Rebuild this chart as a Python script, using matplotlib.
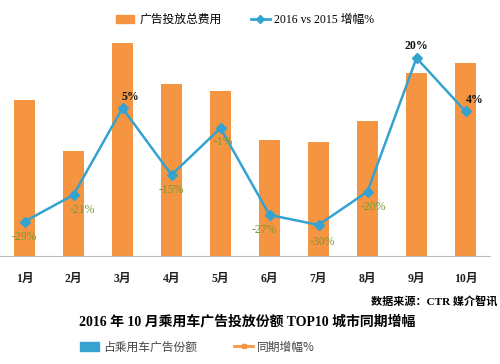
import numpy as np
import matplotlib.pyplot as plt
from matplotlib.patches import Patch
from matplotlib.lines import Line2D

plt.rcParams['font.family'] = ['Liberation Serif', 'Noto Sans CJK SC', 'DejaVu Sans']

# datos
meses = ['1月', '2月', '3月', '4月', '5月', '6月', '7月', '8月', '9月', '10月']
gasto = [156, 105, 213, 172, 165, 116, 114, 135, 183, 193]   # escala relativa
crecimiento = [-29, -21, 5, -15, -1, -27, -30, -20, 20, 4]   # %

naranja = '#F59541'
azul = '#35A3CF'
verde = '#6E9A3C'

fig = plt.figure(figsize=(5, 3.64), dpi=100)
ax = fig.add_axes([0.0, 0.2967, 0.98, 0.621])
x = np.arange(len(meses))

ax.bar(x, gasto, width=0.41, color=naranja, zorder=2)
ax.set_xlim(-0.5, 9.5)
ax.set_ylim(0, 226)
ax.set_yticks([])
for s in ['top', 'left', 'right']:
    ax.spines[s].set_visible(False)
ax.spines['bottom'].set_color('#BBBBBB')
ax.set_xticks(x)
ax.set_xticklabels(meses, fontsize=8.5, fontweight='bold', color='#222222')
ax.tick_params(axis='x', length=0, pad=12)

ax2 = ax.twinx()
ax2.plot(x, crecimiento, color=azul, lw=1.8, marker='D', ms=5, zorder=3)
ax2.set_ylim(-39.3, 28.4)
ax2.axis('off')

# posiciones de las etiquetas (desplazamiento en puntos)
desp = [(0, -11), (6, -11), (6, 8), (0, -11), (2, -10),
        (-4, -11), (3, -12), (4, -11), (0, 9), (7, 8)]
for xi, v, d in zip(x, crecimiento, desp):
    if v > 0:
        c, w = '#111111', 'bold'
    else:
        c, w = verde, 'normal'
    ax2.annotate(f'{v}%', (xi, v), xytext=d, textcoords='offset points',
                 ha='center', va='center', fontsize=8.5, fontweight=w, color=c)

h1 = [Patch(color=naranja), Line2D([], [], color=azul, lw=2, marker='D', ms=4)]
fig.legend(h1, ['广告投放总费用', '2016 vs 2015 增幅%'], ncol=2, loc='center',
           bbox_to_anchor=(0.49, 1 - 20 / 364), frameon=False, fontsize=8.5,
           handlelength=1.6, columnspacing=2.5, handletextpad=0.4)

fig.text(0.994, 1 - 302 / 364, '数据来源：CTR 媒介智讯', ha='right', va='center',
         fontsize=8, fontweight='bold')
fig.text(0.494, 1 - 322 / 364, '2016 年 10 月乘用车广告投放份额 TOP10 城市同期增幅',
         ha='center', va='center', fontsize=10, fontweight='bold')

h2 = [Patch(color=azul), Line2D([], [], color=naranja, lw=2, marker='s', ms=3)]
fig.legend(h2, ['占乘用车广告份额', '同期增幅%'], ncol=2, loc='center',
           bbox_to_anchor=(0.395, 1 - 347 / 364), frameon=False,
           handlelength=1.6, columnspacing=3.2, handletextpad=0.3,
           prop={'family': ['Noto Sans CJK SC'], 'size': 8.5}, labelcolor='#444444')

fig.savefig('out.png', dpi=100)
